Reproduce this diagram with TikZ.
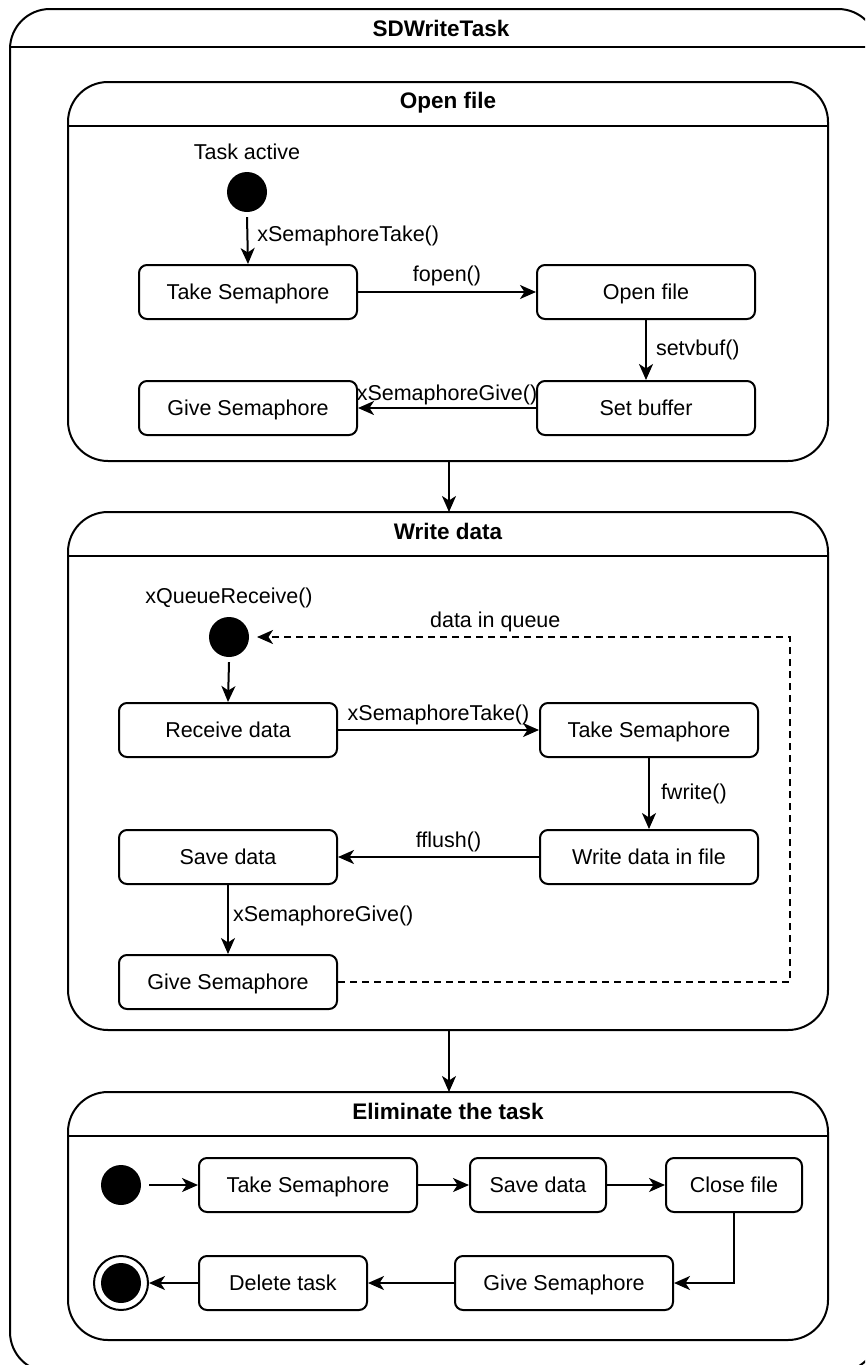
\documentclass[tikz,border=0pt]{standalone}
\usepackage{fontspec}
\setmainfont{Liberation Sans}
\usetikzlibrary{arrows.meta}
\begin{document}
\begin{tikzpicture}[x=1pt,y=-1pt,
  font=\fontsize{21.5}{25}\selectfont,
  lw/.style={line width=2pt},
  statebox/.style={draw,lw,rounded corners=8pt,minimum height=54pt,inner sep=0pt,
    text height=15pt,text depth=0pt},
  region/.style={draw,lw,rounded corners=40pt},
  initial/.style={circle,fill=black,minimum size=40pt,inner sep=0pt},
  finalst/.style={circle,draw,lw,minimum size=54pt,inner sep=0pt,
    path picture={\fill[black] (path picture bounding box.center) circle (20pt);}},
  flow/.style={lw,-{Stealth[length=16pt,width=14pt,inset=4.5pt]}},
  dflow/.style={flow,dash pattern=on 7pt off 5pt},
  lbl/.style={inner sep=1pt},
  title/.style={font=\fontsize{22.5}{26}\selectfont\bfseries}]
\useasboundingbox (0,0) rectangle (865,1365);
\begin{scope}
\clip (0,0) rectangle (865,1365);
% outer task frame
\draw[region] (10,9) rectangle (878,1372);
\draw[lw] (10,47) -- (878,47);
\node[title] (tTask) at (441,28) {SDWriteTask};

% ---------- Open file ----------
\draw[region] (68,82) rectangle (828,461);
\draw[lw] (68,126) -- (828,126);
\node[title] (tOpen) at (448,103) {Open file};
\node (lActive) at (247,152) {Task active};
\node[initial] (i1) at (247,192) {};
\node[statebox,minimum width=218pt] (ts1) at (248,292) {Take Semaphore};
\node[statebox,minimum width=218pt] (of1) at (646,292) {Open file};
\node[statebox,minimum width=218pt] (sb1) at (646,408) {Set buffer};
\node[statebox,minimum width=218pt] (gs1) at (248,408) {Give Semaphore};
\draw[flow] (i1.south) ++(0,5) coordinate (i1s) -- (ts1.north)
  node[lbl,pos=0.4,anchor=west,xshift=8pt] {xSemaphoreTake()};
\draw[flow] (ts1) -- (of1) node[lbl,midway,above=4pt] {fopen()};
\draw[flow] (of1) -- (sb1) node[lbl,midway,anchor=west,xshift=8pt] {setvbuf()};
\draw[flow] (sb1) -- (gs1) node[lbl,pos=0.5,above=1pt] {xSemaphoreGive()};

% ---------- Write data ----------
\draw[region] (68,512) rectangle (828,1030);
\draw[lw] (68,556) -- (828,556);
\node[title] (tWrite) at (448,531) {Write data};
\node (lQueue) at (229,598) {xQueueReceive()};
\node[initial] (i2) at (229,637) {};
\node[statebox,minimum width=218pt] (rd2) at (228,730) {Receive data};
\node[statebox,minimum width=218pt] (ts2) at (649,730) {Take Semaphore};
\node[statebox,minimum width=218pt] (wf2) at (649,857) {Write data in file};
\node[statebox,minimum width=218pt] (sd2) at (228,857) {Save data};
\node[statebox,minimum width=218pt] (gs2) at (228,982) {Give Semaphore};
\draw[flow] (i2.south) ++(0,5) coordinate (i2s) -- (rd2.north);
\draw[flow] (rd2) -- (ts2) node[lbl,midway,above=3pt] {xSemaphoreTake()};
\draw[flow] (ts2) -- (wf2) node[lbl,midway,anchor=west,xshift=10pt] {fwrite()};
\draw[flow] (wf2) -- (sd2) node[lbl,pos=0.45,above=3pt] {fflush()};
\draw[flow] (sd2) -- (gs2) node[lbl,pos=0.45,anchor=west,xshift=3pt] {xSemaphoreGive()};
\coordinate (qd) at (790,982);
\coordinate (qu) at (790,637);
\coordinate (qi) at (257,637);
\draw[dflow] (gs2.east) -- (qd) -- (qu) -- (qi)
  node[lbl,pos=0.553,above=3pt] {data in queue};

% ---------- Eliminate the task ----------
\draw[region] (68,1092) rectangle (828,1340);
\draw[lw] (68,1136) -- (828,1136);
\node[title] (tElim) at (448,1111) {Eliminate the task};
\node[initial] (i3) at (121,1185) {};
\node[statebox,minimum width=218pt] (ts3) at (308,1185) {Take Semaphore};
\node[statebox,minimum width=136pt] (sd3) at (538,1185) {Save data};
\node[statebox,minimum width=136pt] (cf3) at (734,1185) {Close file};
\node[statebox,minimum width=218pt] (gs3) at (564,1283) {Give Semaphore};
\node[statebox,minimum width=168pt] (dt3) at (283,1283) {Delete task};
\node[finalst] (f3) at (121,1283) {};
\draw[flow] (i3.east) ++(8,0) coordinate (i3e) -- (ts3.west);
\draw[flow] (ts3) -- (sd3);
\draw[flow] (sd3) -- (cf3);
\draw[flow] (cf3.south) |- (gs3.east);
\draw[flow] (gs3) -- (dt3);
\draw[flow] (dt3) -- (f3);

% transitions between regions
\coordinate (r1b) at (449,461);
\coordinate (r2t) at (449,512);
\coordinate (r2b) at (449,1030);
\coordinate (r3t) at (449,1092);
\draw[flow] (r1b) -- (r2t);
\draw[flow] (r2b) -- (r3t);
\end{scope}
\end{tikzpicture}
\end{document}
